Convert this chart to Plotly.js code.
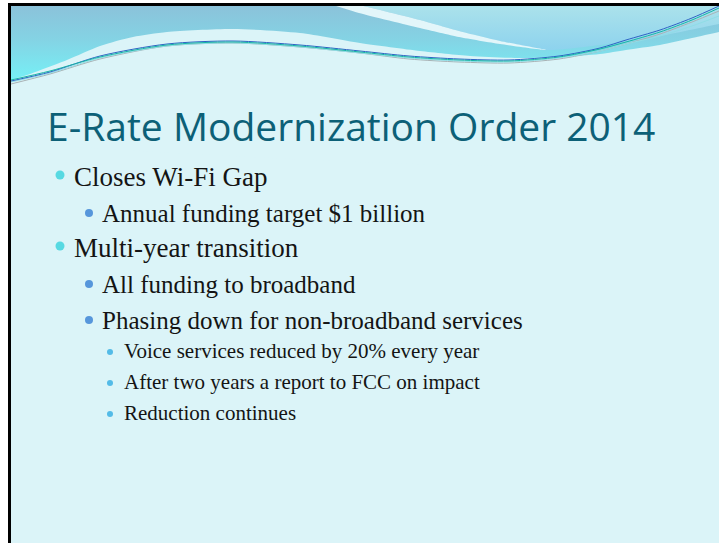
<!DOCTYPE html>
<html>
<head>
<meta charset="utf-8">
<script src="https://cdn.plot.ly/plotly-3.0.1.min.js"></script>
<style>
html,body{margin:0;padding:0;background:#ffffff;}
#chart{width:719px;height:543px;}
</style>
</head>
<body>
<div id="chart"></div>
<script>
// ---- slide content ----
const titleText = "E-Rate Modernization Order 2014";
const bulletTexts = [
  "Closes Wi-Fi Gap",
  "Annual funding target $1 billion",
  "Multi-year transition",
  "All funding to broadband",
  "Phasing down for non-broadband services",
  "Voice services reduced by 20% every year",
  "After two years a report to FCC on impact",
  "Reduction continues"
];
const bulletLevels = [1, 2, 1, 2, 2, 3, 3, 3];

// ---- decorative header outlines (pixel space) ----
const waveTopX = [-30, 760, 760, -30];
const waveTopY = [-30, -30, 120, 120];
const lightX = [318, 359, 420, 459, 500, 546, 600, 660, 719, 780, 780, 318];
const lightY = [-4, 5, 20, 31, 41, 50, 45, 36, 24, 12, -30, -30];
const swooshX = [318, 359, 420, 459, 500, 546, 500, 459, 420, 359, 330];
const swooshY = [-4, 5, 20, 31, 41, 50, 44, 37, 28, 13, 4];
const paleX = [-30, 11, 30, 67, 100, 133, 167, 233, 300, 360, 420, 470, 520, 560, 600, 626, 660, 692, 719, 780, 780, -30];
const paleY = [100, 80, 74, 60, 46, 37, 32, 29, 33, 43, 51, 56, 58, 57, 54, 50, 45, 38, 32, 20, 140, 140];
const lineX = [11, 50, 100, 167, 233, 300, 360, 409, 459, 509, 559, 600, 626, 660, 692, 719];
const tealY = [80, 71, 57, 45, 42, 46, 52, 57, 60, 61, 57, 49, 42, 32, 20, 8];
const greyY = [84, 74, 59, 46, 43, 47, 53, 59, 62, 63, 59, 51, 44, 34, 22, 11];
const blueY = [81, 72, 56, 44, 41, 45, 51, 56, 59, 60, 56, 48, 40, 30, 18, 6];
const paleLineY = [82, 73, 58, 46, 43, 47, 53, 58, 61, 62, 58, 51, 44, 36, 26, 16];

// ---- styles per bullet level ----
const lvl = {
  1: {tx: 72, dx: 60, fs: 27, ds: 9, dc: "#20CDD9", gap: 35, dy: -2},
  2: {tx: 100, dx: 89, fs: 25, ds: 8, dc: "#1E6ECF", gap: 36, dy: 0},
  3: {tx: 122, dx: 110, fs: 21, ds: 6, dc: "#1AA3E0", gap: 31, dy: 1}
};

const traces = [];
traces.push({x: waveTopX, y: waveTopY, type: "scatter", mode: "lines", fill: "toself",
  line: {width: 0}, hoverinfo: "skip", showlegend: false,
  fillgradient: {type: "vertical", start: 6, stop: 80,
    colorscale: [[0, "#8BC2DA"], [0.45, "#84D3E4"], [1, "#76F0F6"]]}});
traces.push({x: lightX, y: lightY, type: "scatter", mode: "lines", fill: "toself",
  line: {width: 0, shape: "spline", smoothing: 0.6}, hoverinfo: "skip", showlegend: false,
  fillgradient: {type: "vertical", start: 6, stop: 52,
    colorscale: [[0, "#ABE2EB"], [1, "#8CD2EE"]]}});
traces.push({x: swooshX, y: swooshY, type: "scatter", mode: "lines", fill: "toself",
  line: {width: 0, shape: "spline", smoothing: 0.6}, fillcolor: "#E3F6FA",
  hoverinfo: "skip", showlegend: false});
traces.push({x: paleX, y: paleY, type: "scatter", mode: "lines", fill: "toself",
  line: {width: 0, shape: "spline", smoothing: 0.7}, fillcolor: "#DBF4F8",
  hoverinfo: "skip", showlegend: false});
const lineSets = [[greyY, "#A9B2B5"], [paleLineY, "#8FDDE6"], [blueY, "#2D63C4"], [tealY, "#17B4A6"]];
lineSets.forEach(([ys, c]) => traces.push({x: lineX, y: ys, type: "scatter", mode: "lines",
  line: {width: 1, color: c, shape: "spline", smoothing: 0.8}, hoverinfo: "skip", showlegend: false}));

// bullets
const annotations = [];
const dotX = [], dotY = [], dotS = [], dotC = [];
let y = 177;
bulletTexts.forEach((t, i) => {
  const s = lvl[bulletLevels[i]];
  if (i > 0) y += s.gap;
  annotations.push({x: s.tx, y: y, xref: "x", yref: "y", xanchor: "left", yanchor: "middle",
    text: t, showarrow: false,
    font: {family: "Liberation Serif, Times New Roman, serif", size: s.fs, color: "#141414"}});
  dotX.push(s.dx); dotY.push(y + s.dy); dotS.push(s.ds); dotC.push(s.dc);
});
traces.push({x: dotX, y: dotY, type: "scatter", mode: "markers",
  marker: {size: dotS, color: dotC, line: {width: 0}}, hoverinfo: "skip", showlegend: false});

annotations.push({x: 45, y: 125, xref: "x", yref: "y", xanchor: "left", yanchor: "middle",
  text: titleText, showarrow: false,
  font: {family: "Open Sans, Lato, sans-serif", size: 39, color: "#0C6077"}});

const layout = {
  width: 719, height: 543,
  margin: {l: 0, r: 0, t: 0, b: 0},
  paper_bgcolor: "#ffffff", plot_bgcolor: "#ffffff",
  xaxis: {range: [0, 719], visible: false, fixedrange: true},
  yaxis: {range: [543, 0], visible: false, fixedrange: true},
  showlegend: false,
  annotations: annotations,
  shapes: [
    {type: "rect", xref: "x", yref: "y", x0: 11, x1: 719, y0: 6, y1: 543,
      fillcolor: "#DBF4F8", line: {width: 0}, layer: "below"},
    {type: "rect", xref: "x", yref: "y", x0: -5, x1: 8, y0: -5, y1: 548,
      fillcolor: "#ffffff", line: {width: 0}, layer: "above"},
    {type: "rect", xref: "x", yref: "y", x0: -5, x1: 724, y0: -5, y1: 3,
      fillcolor: "#ffffff", line: {width: 0}, layer: "above"},
    {type: "rect", xref: "x", yref: "y", x0: 8, x1: 11, y0: 3, y1: 548,
      fillcolor: "#000000", line: {width: 0}, layer: "above"},
    {type: "rect", xref: "x", yref: "y", x0: 8, x1: 724, y0: 3, y1: 6,
      fillcolor: "#000000", line: {width: 0}, layer: "above"}
  ]
};

Plotly.newPlot("chart", traces, layout, {displayModeBar: false, staticPlot: true});
</script>
</body>
</html>
